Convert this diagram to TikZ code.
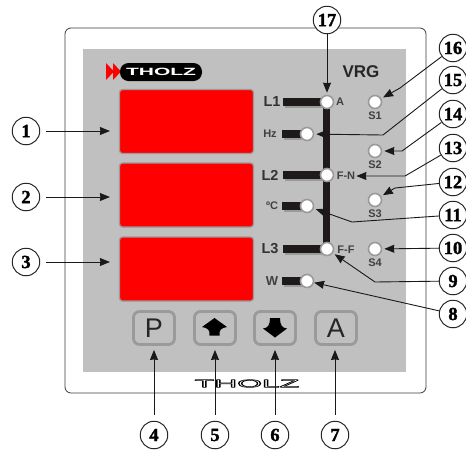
\documentclass[tikz,border=0pt]{standalone}
\usepackage{fontspec}
\setmainfont{Liberation Serif}
\setsansfont{Liberation Sans}
\newfontfamily\numfont[BoldFeatures={FakeBold=1.6}]{Liberation Serif}
\usetikzlibrary{arrows.meta}
\definecolor{paneldark}{HTML}{3C3C3C}
\definecolor{panelgray}{HTML}{C0C0C0}
\definecolor{ledring}{HTML}{9A9A9A}
\definecolor{barblack}{HTML}{1E1A1A}
\tikzset{
	numcirc/.style={circle,draw=black!85,line width=1pt,fill=white,minimum size=27.5pt,inner sep=0pt,font=\numfont\bfseries\fontsize{18.5}{18.5}\selectfont},
	numarrow/.style={->,line width=0.9pt,black!90},
	ledlamp/.style={circle,draw=ledring,line width=1.6pt,fill=white,minimum size=13pt,inner sep=0pt},
	ledbar/.style={barblack,line width=7.5pt,line cap=butt},
	ledshade/.style={ledring,line width=7.5pt,line cap=butt},
	ledtext/.style={font=\sffamily\bfseries\fontsize{11}{11}\selectfont,text=black!75,inner sep=0pt},
	linetext/.style={font=\sffamily\bfseries\fontsize{14.5}{14.5}\selectfont,text=black!80,inner sep=0pt},
	keybox/.style={draw=ledring,line width=2.8pt,rounded corners=6pt,fill=panelgray,minimum width=41pt,minimum height=33pt,inner sep=0pt,font=\sffamily\fontsize{27}{27}\selectfont,text=black!85},
	dispbox/.style={draw=ledring,line width=1.2pt,rounded corners=3pt,fill=red,minimum width=134pt,minimum height=64pt,inner sep=0pt},
}
\begin{document}
\begin{tikzpicture}[x=1pt,y=-1pt,>={Stealth[length=10pt,width=8pt,inset=0.5pt]},line join=round]
	\useasboundingbox (0,0) rectangle (466,451);
	\fill [white] (0,0) rectangle (466,451);
	\draw [paneldark,line width=0.8pt,rounded corners=6pt] (65,28) rectangle (426,393);
	\fill [panelgray] (83,49) rectangle (406,372);
	% displays
	\foreach \i/\y in {1/121.5,2/195,3/269}
		\node [dispbox] (disp\i) at (186.5,\y) {};
	% logo on top
	\fill [red] (106,63)--(114,71.5)--(106,80)--cycle (113,63)--(121,71.5)--(113,80)--cycle;
	\node [fill=black,text=white,rounded corners=8.5pt,minimum width=82pt,minimum height=18pt,inner sep=0pt,font=\sffamily\bfseries\fontsize{10.5}{10.5}\selectfont] (logotop) at (161,72) {\scalebox{2}[1]{THOLZ}};
	\node [font=\sffamily\bfseries\fontsize{17}{17}\selectfont,text=black!85,inner sep=0pt] (vrg) at (361,72) {VRG};
	% bars and lamps
	\foreach \x/\y/\l in {327/102/44,307/134/25,327/175/44,307/206/25,327/249/44,307/281/25}{
		\draw [ledshade] (\x-\l+2,\y+2)--(\x,\y+2);
		\draw [ledbar] (\x-\l,\y)--(\x,\y);
	}
	\draw [barblack,line width=7pt] (326,102)--(326,249);
	\foreach \n/\x/\y in {a/327/102,hz/307/134,fn/327/175,dc/307/206,ff/327/249,w/307/281,s1/375/102,s2/375/151,s3/375/200,s4/375/249}
		\node [ledlamp] (\n) at (\x,\y) {};
	% texts beside the lamps
	\node [linetext] (l1) at (272,102) {L1};
	\node [linetext] (l2) at (270,175) {L2};
	\node [linetext] (l3) at (270,249) {L3};
	\node [ledtext] (thz) at (270,134) {Hz};
	\node [ledtext] (tdc) at (272,206) {ºC};
	\node [ledtext,font=\sffamily\bfseries\fontsize{13}{13}\selectfont] (tw) at (272,281) {W};
	\node [ledtext] (ta) at (340,102) {A};
	\node [ledtext] (tfn) at (346,176) {F-N};
	\node [ledtext] (tff) at (346,250) {F-F};
	\foreach \i/\y in {1/116,2/165,3/214,4/263}
		\node [ledtext] (ts\i) at (375,\y) {S\i};
	% keys
	\node [keybox] (keyp) at (154,328) {P};
	\node [keybox] (keyu) at (215,328) {};
	\node [keybox] (keyd) at (275,328) {};
	\node [keybox] (keya) at (336,328) {A};
	\fill [black] (214.5,318)--(227,327) .. controls (221,328) and (219,330) .. (219.5,335.5)--(209.5,335.5) .. controls (210,330) and (208,328) .. (202,327)--cycle;
	\fill [black] (275,337.5)--(287,328.5) .. controls (282,328) and (280,325) .. (280,318)--(270,318) .. controls (270,325) and (268,328) .. (263,328.5)--cycle;
	% logo below
	\node [inner sep=0pt,text=black,font=\sffamily\fontsize{11}{11}\selectfont] (logobot) at (247,383.5) {\special{pdf:code 1 Tr 0.5 w}\scalebox{2.9}[1]{THOLZ}\special{pdf:code 0 Tr}};
	% numbers
	\foreach \i/\x/\y in {1/26/131,2/26/197,3/26/262,4/154/435,5/215/435,6/275/435,7/335/435,8/453/314,9/453/281,10/453/248,11/453/215,12/453/182,13/453/148,14/453/114,15/453/80,16/453/48,17/327/20}
		\node [numcirc] (n\i) at (\x,\y) {\i};
	% arrows
	\foreach \i in {1,2,3}
		\draw [numarrow,shorten <=6pt,shorten >=9pt] (n\i.east)--(n\i.east -| disp\i.west);
	\draw [numarrow,shorten <=6pt,shorten >=4pt] (n4.north)--(keyp.south);
	\draw [numarrow,shorten <=6pt,shorten >=4pt] (n5.north)--(keyu.south);
	\draw [numarrow,shorten <=6pt,shorten >=4pt] (n6.north)--(keyd.south);
	\draw [numarrow,shorten <=6pt,shorten >=4pt] (n7.north)--(n7.north |- keya.south);
	\draw [numarrow] (n8)--(w);
	\draw [numarrow,shorten >=2pt] (n9)--(375,282)--(ff);
	\draw [numarrow,shorten >=2pt] (n10)--(s4);
	\draw [numarrow,shorten >=2pt] (n11)--(352,222)--(dc);
	\draw [numarrow,shorten >=2pt] (n12)--(395,188)--(s3);
	\draw [numarrow,shorten >=1pt] (n13)--(405,176)--(tfn);
	\draw [numarrow,shorten >=2pt] (n14)--(402,151)--(s2);
	\draw [numarrow,shorten >=2pt] (n15)--(383,135)--(hz);
	\draw [numarrow,shorten >=2pt] (n16)--(400,88)--(s1);
	\draw [numarrow,shorten >=2pt] (n17)--(a);
\end{tikzpicture}
\end{document}
